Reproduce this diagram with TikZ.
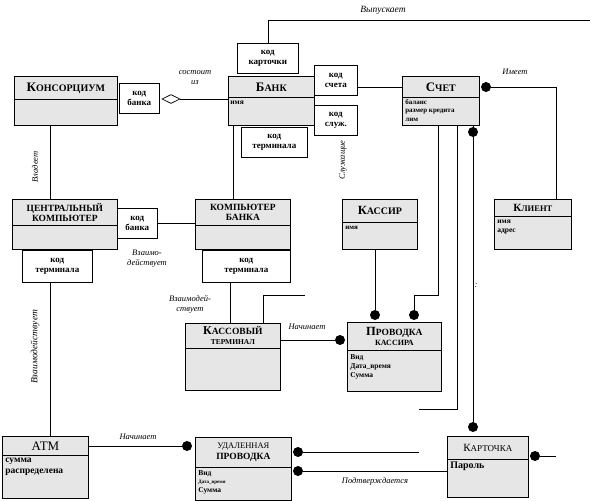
\documentclass[tikz,border=0pt]{standalone}
\usepackage{fontspec}
\setmainfont{Liberation Serif}
\usetikzlibrary{shapes,calc,positioning}
\definecolor{clsgray}{RGB}{230,230,230}
\newcommand\clsname[2]{{\fontsize{13}{14}\selectfont #1}{\fontsize{10}{12}\selectfont #2}}
\tikzset{
  hdr/.style={draw, fill=clsgray, anchor=north west, inner sep=0pt, align=center, font=\bfseries},
  body/.style={draw, fill=clsgray, anchor=north west, inner sep=0pt},
  attr/.style={anchor=north west, align=left, inner sep=0pt, font=\bfseries\fontsize{7}{8.5}\selectfont},
  qual/.style={draw, fill=white, anchor=north west, inner sep=0pt, align=center, font=\bfseries\fontsize{9}{10}\selectfont},
  many/.style={circle, fill=black, inner sep=0pt, minimum size=10pt},
  lbl/.style={font=\itshape\fontsize{8.5}{10}\selectfont, inner sep=0pt, align=center},
}
\begin{document}
\begin{tikzpicture}[x=1pt, y=-1pt, line width=0.7pt]
\useasboundingbox (0,0) rectangle (590,501);
% classes
\node[hdr, minimum width=103pt, minimum height=23pt] (kons-h) at (14,76) {\clsname{К}{ОНСОРЦИУМ}};
\node[body, minimum width=103pt, minimum height=26pt] (kons) at (14,99) {};
\node[hdr, minimum width=86pt, minimum height=21pt] (bank-h) at (228,76) {\clsname{Б}{АНК}};
\node[body, minimum width=86pt, minimum height=28pt] (bank) at (228,97) {};
\node[attr, font=\bfseries\fontsize{7.5}{9}\selectfont] (bank-a) at ([shift={(2pt,-4pt)}]bank.north west) {имя};
\node[hdr, minimum width=77pt, minimum height=21pt] (acct-h) at (402,76) {\clsname{С}{ЧЕТ}};
\node[body, minimum width=77pt, minimum height=28pt] (acct) at (402,97) {};
\node[attr] (acct-a) at ([shift={(3pt,-2pt)}]acct.north west) {баланс\\размер кредита\\лим};
\node[hdr, minimum width=77pt, minimum height=17pt] (client-h) at (494,199) {{\fontsize{11}{12}\selectfont К}{\fontsize{8.5}{10}\selectfont ЛИЕНТ}};
\node[body, minimum width=77pt, minimum height=33pt] (client) at (494,216) {};
\node[attr, font=\bfseries\fontsize{7.5}{9}\selectfont] (client-a) at ([shift={(3pt,-4pt)}]client.north west) {имя\\адрес};
\node[hdr, minimum width=75pt, minimum height=23pt] (cashier-h) at (342,199) {{\fontsize{12.5}{13}\selectfont К}{\fontsize{10}{11}\selectfont АССИР}};
\node[body, minimum width=75pt, minimum height=27pt] (cashier) at (342,222) {};
\node[attr] (cashier-a) at ([shift={(3pt,-4pt)}]cashier.north west) {имя};
\node[hdr, minimum width=105pt, minimum height=26pt, font=\bfseries\fontsize{9.5}{10.5}\selectfont] (ccomp-h) at (12,199) {ЦЕНТРАЛЬНЫЙ\\КОМПЬЮТЕР};
\node[body, minimum width=105pt, minimum height=24pt] (ccomp) at (12,225) {};
\node[hdr, minimum width=95pt, minimum height=26pt, font=\bfseries\fontsize{9.5}{10.5}\selectfont] (bcomp-h) at (195,199) {КОМПЬЮТЕР\\БАНКА};
\node[body, minimum width=95pt, minimum height=24pt] (bcomp) at (195,225) {};
\node[hdr, minimum width=95pt, minimum height=25pt, font=\bfseries\fontsize{7.5}{10}\selectfont] (term-h) at (185,323) {{\fontsize{12}{12}\selectfont К}{\fontsize{9.5}{10}\selectfont АССОВЫЙ}\\ТЕРМИНАЛ};
\node[body, minimum width=95pt, minimum height=42pt] (term) at (185,348) {};
\node[hdr, minimum width=94pt, minimum height=28pt, font=\bfseries\fontsize{8}{10.5}\selectfont] (ctx-h) at (347,322) {{\fontsize{12.5}{13}\selectfont П}{\fontsize{9.5}{10}\selectfont РОВОДКА}\\КАССИРА};
\node[body, minimum width=94pt, minimum height=41pt] (ctx) at (347,350) {};
\node[attr, font=\bfseries\fontsize{7.5}{9}\selectfont] (ctx-a) at ([shift={(3pt,-4pt)}]ctx.north west) {Вид\\Дата\_время\\Сумма};
\node[hdr, minimum width=86pt, minimum height=19pt, font=\mdseries\fontsize{13}{14}\selectfont] (atm-h) at (2,436) {АТМ};
\node[body, minimum width=86pt, minimum height=43pt] (atm) at (2,455) {};
\node[attr, font=\bfseries\fontsize{9.5}{11}\selectfont] (atm-a) at ([shift={(3pt,-3pt)}]atm.north west) {сумма\\распределена};
\node[hdr, minimum width=96pt, minimum height=30pt, font=\bfseries\fontsize{9.5}{10.5}\selectfont] (rtx-h) at (195,437) {{\mdseries\fontsize{8.5}{10}\selectfont УДАЛЕННАЯ}\\ПРОВОДКА};
\node[body, minimum width=96pt, minimum height=33pt] (rtx) at (195,467) {};
\node[attr, font=\bfseries\fontsize{7.5}{8.5}\selectfont] (rtx-a) at ([shift={(3pt,-3pt)}]rtx.north west) {Вид\\{\fontsize{5}{6}\selectfont Дата\_время}\\Сумма};
\node[hdr, minimum width=81pt, minimum height=23pt, font=\mdseries] (card-h) at (447,436) {{\fontsize{11}{12}\selectfont К}{\fontsize{9}{10}\selectfont АРТОЧКА}};
\node[body, minimum width=81pt, minimum height=38pt] (card) at (447,459) {};
\node[attr, font=\bfseries\fontsize{10}{11}\selectfont] (card-a) at ([shift={(3pt,-3pt)}]card.north west) {Пароль};
% qualifiers
\node[qual, minimum width=40pt, minimum height=30pt] (kbank1) at (119,83) {код\\банка};
\node[qual, minimum width=61pt, minimum height=30pt] (kcard) at (237,43) {код\\карточки};
\node[qual, minimum width=43pt, minimum height=30pt] (kacct) at (314,65) {код\\счета};
\node[qual, minimum width=43pt, minimum height=30pt] (kserv) at (314,105) {код\\служ.};
\node[qual, minimum width=66pt, minimum height=30pt] (kterm1) at (241,127) {код\\терминала};
\node[qual, minimum width=40pt, minimum height=30pt] (kbank2) at (117,208) {код\\банка};
\node[qual, minimum width=70pt, minimum height=32pt] (kterm2) at (22,250) {код\\терминала};
\node[qual, minimum width=88pt, minimum height=32pt] (kterm3) at (202,250) {код\\терминала};
% ends
\node[diamond, draw, fill=white, inner sep=0pt, minimum width=18pt, minimum height=9pt] (agg) at (171,99) {};
\node[many] (m-has) at (486,87) {};
\node[many] (m-acct) at (473,132) {};
\node[many] (m-card) at (473,427) {};
\node[many] (m-ctx1) at (375,315) {};
\node[many] (m-ctx2) at (414,315) {};
\node[many] (m-start1) at (340,340) {};
\node[many] (m-start2) at (187,446) {};
\node[many] (m-rtx1) at (298,452) {};
\node[many] (m-rtx2) at (298,471) {};
\node[many] (m-card2) at (535,456) {};
\coordinate (issue-end) at (590,20);
\coordinate (has-end) at (556,199);
\coordinate (acct-end) at (419,409);
\coordinate (term-end) at (305,295);
\coordinate (rtx-end) at (419,452);
\coordinate (card-end) at (556,456);
% connectors
\draw (agg.east) -- (agg.east -| bank.west);
\draw (kcard.north) |- (issue-end);
\draw (acct-h.west -| kacct.east) -- (acct-h.west);
\draw (m-has) -| (has-end);
\draw ([xshift=-2.5pt]acct.south) |- ([yshift=20pt]m-ctx2.center) -- (m-ctx2);
\draw ([xshift=16pt]acct.south) |- (acct-end);
\draw (acct.south -| m-acct) -- (m-card);
\draw ([xshift=5pt]bank.south west) -- ([xshift=5pt]bank.south west |- bcomp-h.north);
\draw ([xshift=36pt]kons.south west) -- ([xshift=36pt]kons.south west |- ccomp-h.north);
\draw (kbank2.east) -- (kbank2.east -| bcomp-h.west);
\draw ([xshift=28pt]kterm2.south west) -- ([xshift=28pt]kterm2.south west |- atm-h.north);
\draw ([xshift=28pt]kterm3.south west) -- ([xshift=28pt]kterm3.south west |- term-h.north);
\draw ([xshift=78pt]term-h.north west) |- (term-end);
\draw (m-start1 -| term-h.east) -- (m-start1);
\draw (cashier.south -| m-ctx1) -- (m-ctx1);
\draw (m-start2 -| atm-h.east) -- (m-start2);
\draw (m-rtx1) -- (rtx-end);
\draw (m-rtx2) -- (m-rtx2 -| card.west);
\draw (m-card2) -- (card-end);
% labels
\node[lbl, font=\itshape\fontsize{9.5}{10}\selectfont] (l-issue) at (383,10) {Выпускает};
\node[lbl] (l-part) at (195,78) {состоит\\из};
\node[lbl] (l-has) at (515,72) {Имеет};
\node[lbl, rotate=90] (l-own) at (35,167) {Владеет};
\node[lbl, rotate=90, font=\itshape\fontsize{9.5}{10}\selectfont] (l-inter1) at (35,347) {Взаимодействует};
\node[lbl, rotate=90] (l-staff) at (343,160) {Служащие};
\node[lbl] (l-inter2) at (147,259) {Взаимо-\\действует};
\node[lbl] (l-inter3) at (190,304) {Взаимодей-\\ствует};
\node[lbl] (l-start1) at (307,327) {Начинает};
\node[lbl] (l-start2) at (138,437) {Начинает};
\node[lbl] (l-conf) at (375,481) {Подтверждается};
\node[lbl] (l-dots) at (476,286) {:};
\end{tikzpicture}
\end{document}
